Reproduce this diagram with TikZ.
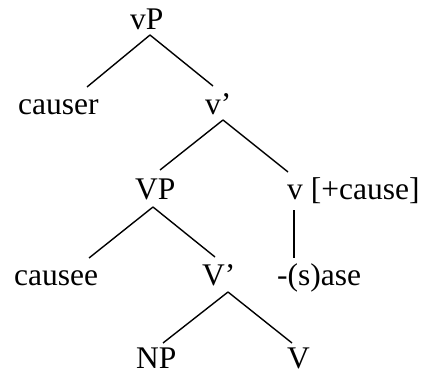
\documentclass[tikz,border=0pt]{standalone}
\usepackage{fontspec}
\setmainfont{Liberation Serif}
\begin{document}
\begin{tikzpicture}[x=1pt,y=-1pt,
  lbl/.style={inner sep=0pt, anchor=base west, font=\fontsize{31.5}{36}\selectfont},
  branch/.style={line width=1.4pt}]
\useasboundingbox (0,0) rectangle (422,371);
% tree labels, placed by baseline
\node[lbl] (vP)     at (130,30)  {vP};
\node[lbl] (causer) at (18,115)  {causer};
\node[lbl] (vbar)   at (205,115) {v’};
\node[lbl] (VP)     at (135,200) {VP};
\node[lbl] (vhead)  at (287,200) {v [+cause]};
\node[lbl] (causee) at (14,285)  {causee};
\node[lbl] (Vbar)   at (202,285) {V’};
\node[lbl] (sase)   at (277,285) {-(s)ase};
\node[lbl] (NP)     at (136,368) {NP};
\node[lbl] (V)      at (287,368) {V};
% branches
\draw[branch] ([shift={(20,5)}]vP.base west) -- ([shift={(69,-28)}]causer.base west);
\draw[branch] ([shift={(20,5)}]vP.base west) -- ([shift={(8,-29)}]vbar.base west);
\draw[branch] ([shift={(18,5)}]vbar.base west) -- ([shift={(25,-30)}]VP.base west);
\draw[branch] ([shift={(18,5)}]vbar.base west) -- ([shift={(1,-28)}]vhead.base west);
\draw[branch] ([shift={(18,7)}]VP.base west) -- ([shift={(75,-27)}]causee.base west);
\draw[branch] ([shift={(18,7)}]VP.base west) -- ([shift={(13,-28)}]Vbar.base west);
\draw[branch] ([shift={(7,10)}]vhead.base west) -- ([shift={(17,-27)}]sase.base west);
\draw[branch] ([shift={(26,7)}]Vbar.base west) -- ([shift={(27,-25)}]NP.base west);
\draw[branch] ([shift={(26,7)}]Vbar.base west) -- ([shift={(5,-25)}]V.base west);
\end{tikzpicture}
\end{document}
